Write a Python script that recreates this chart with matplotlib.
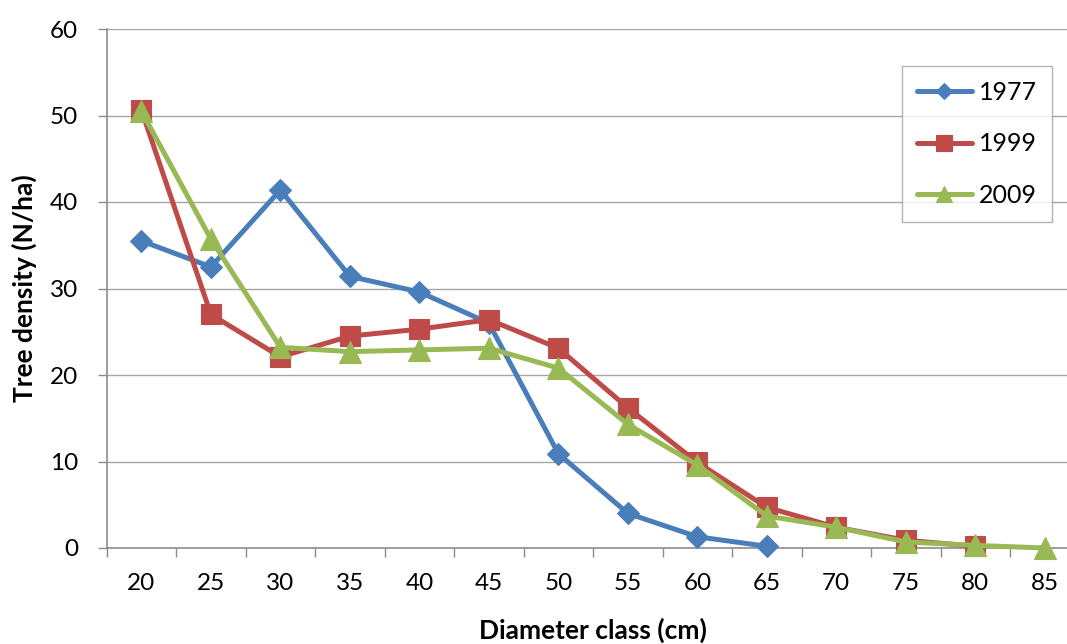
import matplotlib
matplotlib.use("Agg")
import matplotlib.pyplot as plt
import numpy as np

# Diameter classes (cm) and tree density (N/ha) for each inventory year
diameter_classes = [20, 25, 30, 35, 40, 45, 50, 55, 60, 65, 70, 75, 80, 85]
density_1977 = [35.5, 32.5, 41.4, 31.4, 29.6, 26.0, 10.9, 4.0, 1.3, 0.2]
density_1999 = [50.6, 27.0, 22.1, 24.5, 25.3, 26.4, 23.1, 16.2, 9.9, 4.7, 2.4, 0.9, 0.2]
density_2009 = [50.5, 35.7, 23.2, 22.7, 22.9, 23.1, 20.8, 14.3, 9.6, 3.7, 2.4, 0.7, 0.3, 0.0]
series_labels = ["1977", "1999", "2009"]
y_ticks = [0, 10, 20, 30, 40, 50, 60]

plt.rcParams["font.family"] = ["Lato", "DejaVu Sans"]

fig = plt.figure(figsize=(10.67, 6.44), dpi=100)
ax = fig.add_axes([106.7 / 1067, 1 - 548 / 644, (1079.5 - 106.7) / 1067, (548 - 29) / 644])

axis_grey = "#8c8c8c"
grid_grey = "#a6a6a6"
tick_size = 17.5

styles = [
    dict(color="#4a7ebb", marker="D", ms=11.5),
    dict(color="#be4b48", marker="s", ms=14.5),
    dict(color="#98b954", marker="^", ms=15.5),
]

for values, label, st in zip([density_1977, density_1999, density_2009], series_labels, styles):
    x = np.arange(len(values))
    ax.plot(x, values, color=st["color"], lw=3.6, marker=st["marker"], ms=st["ms"],
            mfc=st["color"], mec=st["color"], mew=0.8, label=label,
            solid_joinstyle="round", solid_capstyle="round", clip_on=False, zorder=3)

ax.set_xlim(-0.5, len(diameter_classes) - 0.5)
ax.set_ylim(0, 60)

# Category ticks sit between classes; labels sit at the class centres
ax.set_xticks(np.arange(len(diameter_classes) + 1) - 0.5)
ax.set_xticklabels([])
ax.set_xticks(np.arange(len(diameter_classes)), minor=True)
ax.set_xticklabels([str(d) for d in diameter_classes], minor=True)
ax.tick_params(axis="x", which="major", length=6.5, width=1, color=axis_grey, direction="out")
ax.tick_params(axis="x", which="minor", length=0, pad=18, labelsize=tick_size)

ax.set_yticks(y_ticks)
ax.set_yticklabels([str(v) for v in y_ticks])
ax.tick_params(axis="y", length=6.5, width=1, color=axis_grey, direction="out", pad=14,
               labelsize=tick_size)

ax.yaxis.grid(True, color=grid_grey, lw=1.0)
ax.set_axisbelow(True)
for side in ("top", "right"):
    ax.spines[side].set_visible(False)
for side in ("left", "bottom"):
    ax.spines[side].set_color(axis_grey)
    ax.spines[side].set_linewidth(1.2)

ax.set_xlabel("Diameter class (cm)", fontsize=19, fontweight="bold", labelpad=17)
ax.set_ylabel("Tree density (N/ha)", fontsize=19, fontweight="bold", labelpad=9)

leg = fig.legend(loc="upper left", bbox_to_anchor=(901.7 / 1067, 1 - 65.7 / 644),
                 frameon=True, fancybox=False, edgecolor="#a0a0a0", fontsize=18,
                 handlelength=2.2, handletextpad=0.3, labelspacing=1.15,
                 borderpad=0.6, borderaxespad=0, markerscale=0.75)
leg.get_frame().set_linewidth(1.0)

fig.savefig("out.png", dpi=100, facecolor="white")
